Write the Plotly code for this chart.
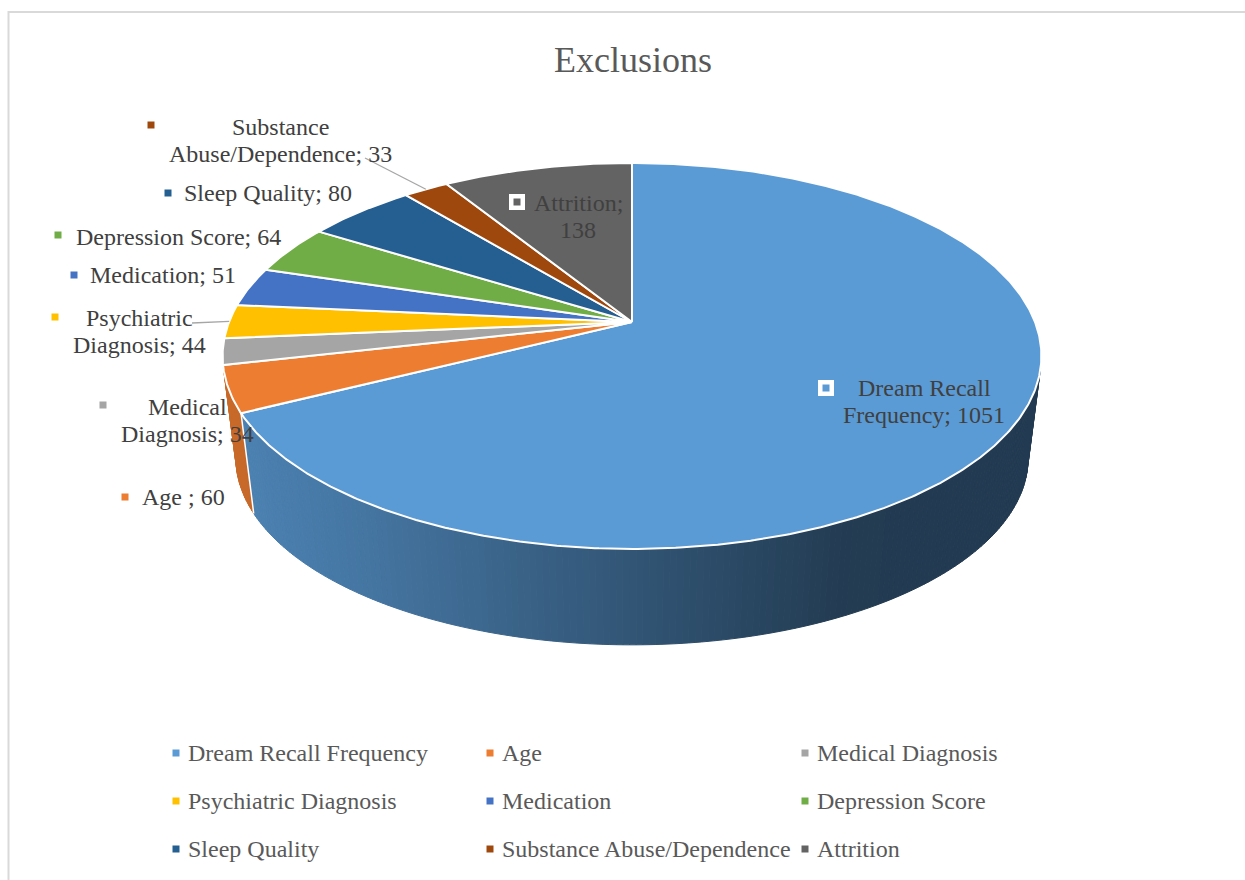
import numpy as np
import plotly.graph_objects as go

# ---- data ----
categories = ["Dream Recall Frequency", "Age ", "Medical Diagnosis", "Psychiatric Diagnosis",
              "Medication", "Depression Score", "Sleep Quality",
              "Substance Abuse/Dependence", "Attrition"]
values = [1051, 60, 34, 44, 51, 64, 80, 33, 138]
colors = ["#5B9BD5", "#ED7D31", "#A5A5A5", "#FFC000", "#4472C4",
          "#70AD47", "#255E91", "#9E480E", "#636363"]
title = "Exclusions"

# ---- pie geometry (pixel space) ----
CX, CY = 632, 322          # centre of the pie top
RX, RY = 403, 187          # radii of the top ellipse
PERSP = 0.176              # perspective strength across the pie plane
VP = (632, 3500)           # vanishing point of the vertical edges
DEPTH_SCALE = 0.9675       # scale of the bottom rim toward the vanishing point

FONT = "Liberation Serif"
LABEL_COLOR = "#404040"
LEGEND_COLOR = "#595959"
LEADER_COLOR = "#A6A6A6"


def top_point(theta):
    t = np.radians(theta)
    u, v = np.sin(t), -np.cos(t)
    d = 1 - PERSP * v
    return CX + RX * u / d, CY + RY * v / d


def bottom_point(theta):
    x, y = top_point(theta)
    return VP[0] + (x - VP[0]) * DEPTH_SCALE, VP[1] + (y - VP[1]) * DEPTH_SCALE


def hex_rgb(h):
    h = h.lstrip("#")
    return np.array([int(h[i:i + 2], 16) for i in (0, 2, 4)], dtype=float)


def shade(hexcol, theta):
    # light from the left: the side wall darkens toward the right
    u = np.sin(np.radians(theta))
    f = np.interp(u, [-1.0, -0.6, -0.1, 0.3, 0.45, 0.6, 1.0],
                  [0.86, 0.77, 0.59, 0.44, 0.39, 0.385, 0.385])
    r, g, b = np.clip(hex_rgb(hexcol) * f, 0, 255).astype(int)
    return f"rgb({r},{g},{b})"


def signed_area(xs, ys):
    return 0.5 * sum(xs[i] * ys[(i + 1) % len(xs)] - xs[(i + 1) % len(xs)] * ys[i]
                     for i in range(len(xs)))


total = float(sum(values))
bounds = np.concatenate([[0.0], np.cumsum(values) / total * 360.0])


def quad(t0, t1):
    p1, p2 = top_point(t0), top_point(t1)
    p3, p4 = bottom_point(t1), bottom_point(t0)
    xs = [p1[0], p2[0], p3[0], p4[0]]
    ys = [p1[1], p2[1], p3[1], p4[1]]
    return xs, ys


ref_xs, ref_ys = quad(179.5, 180.5)
front_sign = np.sign(signed_area(ref_xs, ref_ys))

fig = go.Figure()

# ---- side wall ----
for i, col in enumerate(colors):
    a0, a1 = bounds[i], bounds[i + 1]
    n = int(np.ceil((a1 - a0) / 0.8)) + 1
    ts = np.linspace(a0, a1, n)
    for t0, t1 in zip(ts[:-1], ts[1:]):
        xs, ys = quad(t0, t1)
        if np.sign(signed_area(xs, ys)) != front_sign:
            continue
        c = shade(col, 0.5 * (t0 + t1))
        fig.add_trace(go.Scatter(x=xs + [xs[0]], y=ys + [ys[0]], mode="lines",
                                 fill="toself", fillcolor=c,
                                 line=dict(color=c, width=1), hoverinfo="skip"))

# white seams where slices meet on the visible side wall
for b in bounds[1:-1]:
    xs, ys = quad(b - 0.3, b + 0.3)
    if np.sign(signed_area(xs, ys)) == front_sign:
        (x0, y0), (x1, y1) = top_point(b), bottom_point(b)
        fig.add_trace(go.Scatter(x=[x0, x1], y=[y0, y1], mode="lines",
                                 line=dict(color="white", width=1.5), hoverinfo="skip"))

# ---- top faces ----
for i, col in enumerate(colors):
    a0, a1 = bounds[i], bounds[i + 1]
    n = int(np.ceil((a1 - a0) / 0.5)) + 1
    ts = np.linspace(a0, a1, n)
    pts = [top_point(t) for t in ts]
    xs = [CX] + [p[0] for p in pts] + [CX]
    ys = [CY] + [p[1] for p in pts] + [CY]
    fig.add_trace(go.Scatter(x=xs, y=ys, mode="lines", fill="toself", fillcolor=col,
                             line=dict(color="white", width=2), hoverinfo="skip"))

# ---- data labels ----
# per category: text centre x, first line y, marker x, marker y, words on first line, inside-pie key
label_layout = {
    "Dream Recall Frequency": (924, 388, 826, 388, 2, True),
    "Age ": (183, 497, 125, 497, 0, False),
    "Medical Diagnosis": (187, 407, 103, 405, 1, False),
    "Psychiatric Diagnosis": (139, 318, 55, 317, 1, False),
    "Medication": (163, 275, 74, 275, 0, False),
    "Depression Score": (178, 237, 58, 235, 0, False),
    "Sleep Quality": (268, 193, 168, 193, 0, False),
    "Substance Abuse/Dependence": (280, 127, 151, 125, 1, False),
    "Attrition": (578, 203, 517, 202, 1, True),
}
LINE_STEP = 27

# leader lines: start point near the label, end on the slice rim at its mid angle
leader_start = {
    "Substance Abuse/Dependence": (365, 158),
    "Psychiatric Diagnosis": (192, 323),
}

annotations = []
for i, (name, val, col) in enumerate(zip(categories, values, colors)):
    tx, ty, mx, my, nfirst, inside = label_layout[name]
    text = f"{name}; {val}"
    words = text.split(" ")
    lines = [text] if nfirst == 0 else [" ".join(words[:nfirst]), " ".join(words[nfirst:])]
    for j, ln in enumerate(lines):
        annotations.append(dict(x=tx, y=ty + j * LINE_STEP, xref="x", yref="y", text=ln,
                                showarrow=False, xanchor="center", yanchor="middle",
                                font=dict(family=FONT, size=24, color=LABEL_COLOR)))
    if inside:
        fig.add_trace(go.Scatter(x=[mx], y=[my], mode="markers", hoverinfo="skip",
                                 marker=dict(symbol="square", size=11.5, color=col,
                                             line=dict(color="white", width=4.5))))
    else:
        fig.add_trace(go.Scatter(x=[mx], y=[my], mode="markers", hoverinfo="skip",
                                 marker=dict(symbol="square", size=7, color=col,
                                             line=dict(width=0))))
    if name in leader_start:
        mid = 0.5 * (bounds[i] + bounds[i + 1])
        ex, ey = top_point(mid)
        sx, sy = leader_start[name]
        fig.add_trace(go.Scatter(x=[sx, ex], y=[sy, ey], mode="lines", hoverinfo="skip",
                                 line=dict(color=LEADER_COLOR, width=1.3)))

# ---- legend (3 columns x 3 rows) ----
legend_cols = [176, 490, 805]
legend_rows = [753, 801, 849]
for i, (name, col) in enumerate(zip(categories, colors)):
    mx = legend_cols[i % 3]
    my = legend_rows[i // 3]
    fig.add_trace(go.Scatter(x=[mx], y=[my], mode="markers", hoverinfo="skip",
                             marker=dict(symbol="square", size=7, color=col,
                                         line=dict(width=0))))
    annotations.append(dict(x=mx + 10, y=my, xref="x", yref="y", text=name.strip(),
                            showarrow=False, xanchor="left", yanchor="middle",
                            font=dict(family=FONT, size=24, color=LEGEND_COLOR)))

annotations.append(dict(x=633, y=60, xref="x", yref="y", text=title, showarrow=False,
                        xanchor="center", yanchor="middle",
                        font=dict(family=FONT, size=36, color=LEGEND_COLOR)))

fig.update_layout(
    width=1245, height=880,
    margin=dict(l=0, r=0, t=0, b=0),
    paper_bgcolor="white", plot_bgcolor="white",
    showlegend=False,
    xaxis=dict(range=[0, 1245], visible=False, fixedrange=True),
    yaxis=dict(range=[880, 0], visible=False, fixedrange=True),
    annotations=annotations,
    shapes=[dict(type="rect", xref="paper", yref="paper", x0=8.5 / 1245, y0=1 - 12 / 880,
                 x1=1.02, y1=-0.02, line=dict(color="#D9D9D9", width=2))],
)

fig.write_html("out.html")
